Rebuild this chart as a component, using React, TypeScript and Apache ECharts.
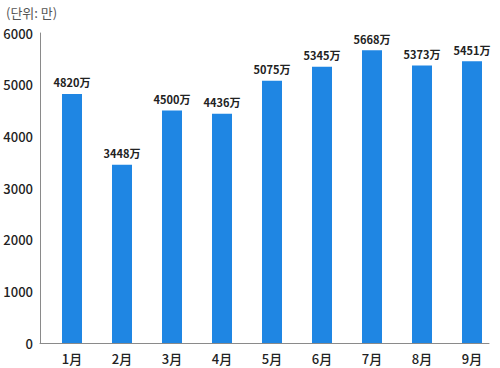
import React, { useEffect, useRef } from "react";
import * as echarts from "echarts";

const categories = ["1月", "2月", "3月", "4月", "5月", "6月", "7月", "8月", "9月"];
const values = [4820, 3448, 4500, 4436, 5075, 5345, 5668, 5373, 5451];
const unitLabel = "(단위: 만)";
const valueSuffix = "万";
const yMax = 6000;
const yStep = 1000;

const FONT = "'Noto Sans CJK SC', 'Noto Sans', sans-serif";

export default function App() {
  const ref = useRef<HTMLDivElement>(null);
  useEffect(() => {
    if (!ref.current) return;
    const chart = echarts.init(ref.current, null, { renderer: "svg" });
    chart.setOption({
      animation: false,
      backgroundColor: "#ffffff",
      title: {
        text: unitLabel,
        left: 1,
        top: 1,
        textStyle: { fontFamily: FONT, fontSize: 13, fontWeight: "normal", color: "#555" },
      },
      grid: [
        { left: 47, right: 3, top: 33, bottom: 25 },
        { left: 40, right: 11, top: 33, bottom: 25 },
      ],
      xAxis: [
        {
          type: "category",
          gridIndex: 0,
          data: categories,
          axisLine: { show: false },
          axisTick: { show: false },
          axisLabel: { color: "#222", fontFamily: FONT, fontSize: 13, fontWeight: 500, margin: 9 },
        },
        {
          type: "value",
          gridIndex: 1,
          min: 0,
          max: 1,
          axisLine: { show: true, lineStyle: { color: "#8a8a8a", width: 1 } },
          axisTick: { show: false },
          axisLabel: { show: false },
          splitLine: { show: false },
        },
      ],
      yAxis: [
        {
          type: "value",
          gridIndex: 0,
          min: 0,
          max: yMax,
          interval: yStep,
          show: false,
          splitLine: { show: false },
        },
        {
          type: "value",
          gridIndex: 1,
          min: 0,
          max: yMax,
          interval: yStep,
          axisLine: { show: true, lineStyle: { color: "#8a8a8a", width: 1 } },
          axisTick: { show: false },
          splitLine: { show: false },
          axisLabel: {
            color: "#222",
            fontFamily: FONT,
            fontSize: 13,
            fontWeight: 500,
            margin: 7,
            formatter: (v: number) => String(v),
          },
        },
      ],
      series: [
        {
          type: "bar",
          xAxisIndex: 0,
          yAxisIndex: 0,
          data: values,
          barWidth: 20,
          itemStyle: { color: "#1f86e3" },
          label: {
            show: true,
            position: "top",
            distance: 6,
            formatter: (p: any) => `${p.value}${valueSuffix}`,
            fontFamily: FONT,
            fontSize: 11,
            fontWeight: "bold",
            color: "#222",
          },
        },
      ],
    });
    return () => chart.dispose();
  }, []);
  return (
    <div
      ref={ref}
      style={{ position: "fixed", left: 0, top: 0, width: 500, height: 368 }}
    />
  );
}
